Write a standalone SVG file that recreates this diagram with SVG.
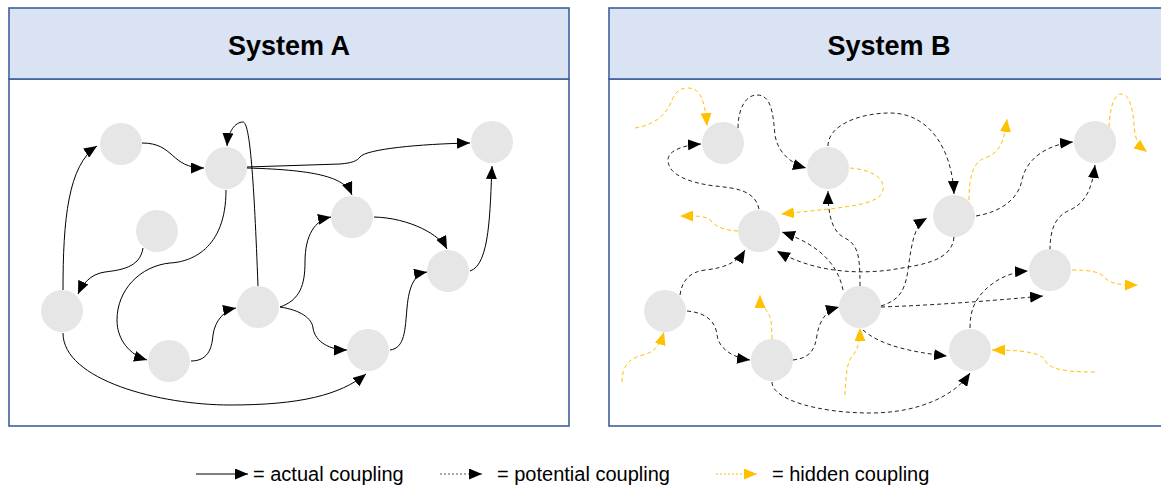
<svg xmlns="http://www.w3.org/2000/svg" width="1161" height="486" viewBox="0 0 1161 486">
  <style>
    .panel { fill: #ffffff; stroke: #3f5f9c; stroke-width: 1.6; }
    .head { fill: #dae3f3; stroke: #3f5f9c; stroke-width: 1.6; }
    .title { font-family: "Liberation Sans", Arial, sans-serif; font-weight: bold; font-size: 27px; fill: #000; text-anchor: middle; }
    .node { fill: #e6e6e6; stroke: none; }
    .actual { fill: none; stroke: #000; stroke-width: 1; marker-end: url(#arrBlack); }
    .potential { fill: none; stroke: #222; stroke-width: 1; stroke-dasharray: 4 3; marker-end: url(#arrBlack); }
    .hidden { fill: none; stroke: #ffc000; stroke-width: 1; stroke-dasharray: 4 3; marker-end: url(#arrGold); }
    .legend { font-family: "Liberation Sans", Arial, sans-serif; font-size: 20px; fill: #000; }
  </style>
  <defs>
    <marker id="arrBlack" markerUnits="userSpaceOnUse" markerWidth="13" markerHeight="11" refX="13" refY="5.5" orient="auto">
      <path d="M0,0 L13,5.5 L0,11 z" fill="#000"/>
    </marker>
    <marker id="arrGold" markerUnits="userSpaceOnUse" markerWidth="13" markerHeight="11" refX="13" refY="5.5" orient="auto">
      <path d="M0,0 L13,5.5 L0,11 z" fill="#ffc000"/>
    </marker>
  </defs>

  <!-- panel frames -->
  <g id="panelA">
    <rect class="panel" x="9" y="79" width="560" height="347"/>
    <rect class="head" x="9" y="8" width="560" height="71"/>
    <text class="title" x="289" y="55">System A</text>
  </g>
  <g id="panelB">
    <rect class="panel" x="609" y="79" width="560" height="347"/>
    <rect class="head" x="609" y="8" width="560" height="71"/>
    <text class="title" x="889" y="55">System B</text>
  </g>

  <!-- System A connectors -->
  <g id="connectorsA">
    <path class="actual" d="M63,290 C63,220 68,165 97,146"/>
    <path class="actual" d="M142,143 C175,143 170,168 204,168"/>
    <path class="actual" d="M247,167 L340,164 C352,163 357,161 360,157 C366,149 420,144 470,143"/>
    <path class="actual" d="M247,168 C320,170 345,178 352,195"/>
    <path class="actual" d="M226,190 C226,250 190,262 170,263 C140,266 117,290 117,320 C117,340 130,355 147,360"/>
    <path class="actual" d="M258,286 C254,180 250,122 243,122 C235,122 228,132 227,146"/>
    <path class="actual" d="M143,248 C140,268 120,270 105,272 C90,274 82,285 78,294"/>
    <path class="actual" d="M191,361 C210,361 212,345 213,335 C215,320 225,310 236,308"/>
    <path class="actual" d="M63,333 C63,380 160,405 230,405 C300,405 340,395 366,374"/>
    <path class="actual" d="M280,307 C300,300 305,285 305,262 C305,235 315,220 331,217"/>
    <path class="actual" d="M280,307 C300,310 312,318 313,328 C315,342 330,350 347,350"/>
    <path class="actual" d="M374,217 C410,218 440,235 447,249"/>
    <path class="actual" d="M390,350 C405,348 405,330 407,308 C409,285 415,274 427,272"/>
    <path class="actual" d="M470,271 C490,265 490,210 492,166"/>
  </g>

  <!-- System A nodes -->
  <g id="a1"><circle class="node" cx="121" cy="144" r="21"/></g>
  <g id="a2"><circle class="node" cx="226" cy="168" r="21"/></g>
  <g id="a3"><circle class="node" cx="157" cy="231" r="21"/></g>
  <g id="a4"><circle class="node" cx="62" cy="311" r="21"/></g>
  <g id="a5"><circle class="node" cx="169" cy="361" r="21"/></g>
  <g id="a6"><circle class="node" cx="258" cy="307" r="21"/></g>
  <g id="a7"><circle class="node" cx="352" cy="217" r="21"/></g>
  <g id="a8"><circle class="node" cx="448" cy="271" r="21"/></g>
  <g id="a9"><circle class="node" cx="368" cy="350" r="21"/></g>
  <g id="a10"><circle class="node" cx="492" cy="142" r="21"/></g>

  <!-- System B connectors -->
  <g id="connectorsB">
    <!-- potential couplings -->
    <path class="potential" d="M738,128 C738,110 745,95 757,95 C772,95 773,115 775,135 C778,155 795,165 806,168"/>
    <path class="potential" d="M759,209 C755,190 735,188 715,186 C690,183 668,175 668,160 C668,150 685,145 701,144"/>
    <path class="potential" d="M828,146 C828,125 860,113 890,113 C930,113 952,150 954,194"/>
    <path class="potential" d="M860,286 C860,255 858,245 845,238 C832,232 828,215 828,191"/>
    <path class="potential" d="M843,290 C838,265 820,245 782,232"/>
    <path class="potential" d="M954,237 C952,262 920,265 890,270 C850,275 810,270 777,251"/>
    <path class="potential" d="M881,306 C900,300 905,290 908,270 C912,240 915,225 927,218"/>
    <path class="potential" d="M881,307 C940,305 1000,300 1043,296"/>
    <path class="potential" d="M863,330 C880,345 910,352 947,356"/>
    <path class="potential" d="M772,382 C772,400 820,413 870,413 C920,413 955,395 970,373"/>
    <path class="potential" d="M793,360 C810,358 815,350 817,335 C820,318 828,310 839,307"/>
    <path class="potential" d="M687,311 C710,313 716,325 717,335 C719,350 735,358 750,360"/>
    <path class="potential" d="M680,295 C682,280 690,272 705,270 C725,268 738,262 745,250"/>
    <path class="potential" d="M1050,250 C1050,225 1058,215 1070,210 C1085,203 1092,190 1095,165"/>
    <path class="potential" d="M976,216 C1000,212 1018,200 1022,180 C1026,160 1045,145 1073,142"/>
    <path class="potential" d="M970,328 C970,310 975,300 985,290 C995,280 1010,272 1028,271"/>
    <!-- hidden couplings -->
    <path class="hidden" d="M635,128 C660,124 668,110 672,100 C676,90 682,88 688,88 C700,88 705,100 707,126"/>
    <path class="hidden" d="M850,168 C875,170 885,180 883,190 C880,205 850,207 781,214"/>
    <path class="hidden" d="M738,231 C720,230 715,225 710,220 C705,216 700,216 680,216"/>
    <path class="hidden" d="M969,200 C969,180 972,162 985,158 C998,153 1004,145 1007,119"/>
    <path class="hidden" d="M1109,127 C1110,105 1115,94 1121,94 C1130,94 1133,110 1134,125 C1135,140 1138,145 1147,152"/>
    <path class="hidden" d="M1072,270 C1090,270 1100,272 1104,277 C1110,284 1120,285 1138,285"/>
    <path class="hidden" d="M1095,372 C1060,372 1048,368 1045,360 C1040,352 1020,350 992,350"/>
    <path class="hidden" d="M845,395 C846,370 848,360 853,355 C858,350 860,340 860,328"/>
    <path class="hidden" d="M772,339 C772,320 770,315 766,310 C762,305 760,300 760,295"/>
    <path class="hidden" d="M622,382 C622,365 630,358 643,355 C655,352 660,345 664,332"/>
  </g>

  <!-- System B nodes -->
  <g id="b1"><circle class="node" cx="723" cy="143" r="21"/></g>
  <g id="b2"><circle class="node" cx="828" cy="168" r="21"/></g>
  <g id="b3"><circle class="node" cx="759" cy="231" r="21"/></g>
  <g id="b4"><circle class="node" cx="954" cy="216" r="21"/></g>
  <g id="b5"><circle class="node" cx="1095" cy="142" r="21"/></g>
  <g id="b6"><circle class="node" cx="665" cy="311" r="21"/></g>
  <g id="b7"><circle class="node" cx="772" cy="360" r="21"/></g>
  <g id="b8"><circle class="node" cx="860" cy="307" r="21"/></g>
  <g id="b9"><circle class="node" cx="1050" cy="270" r="21"/></g>
  <g id="b10"><circle class="node" cx="970" cy="350" r="21"/></g>

  <!-- legend -->
  <g id="legend">
    <path class="actual" d="M196,474 L248,474"/>
    <text class="legend" x="253" y="481">= actual coupling</text>
    <path class="potential" d="M440,474 L482,474" style="stroke-dasharray: 2 2; stroke: #555;"/>
    <text class="legend" x="497" y="481">= potential coupling</text>
    <path class="hidden" d="M716,474 L757,474" style="stroke-dasharray: 2 2;"/>
    <text class="legend" x="772" y="481">= hidden coupling</text>
  </g>
</svg>
